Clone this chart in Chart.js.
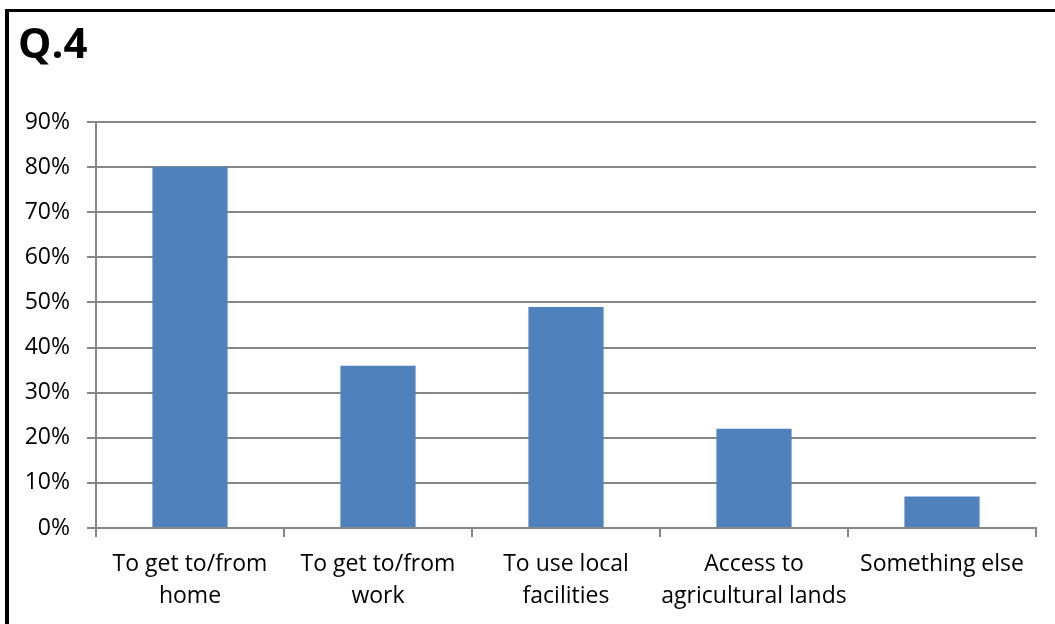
<!DOCTYPE html>
<html>
<head>
<meta charset="utf-8">
<script src="https://cdn.jsdelivr.net/npm/chart.js@4.4.1/dist/chart.umd.min.js"></script>
<style>
  html, body { margin: 0; padding: 0; background: #fff; }
  #frame {
    position: absolute; left: 5px; top: 9px; width: 1100px; height: 700px;
    border-top: 3px solid #000; border-left: 4px solid #000;
  }
  #wrap { position: absolute; left: 0; top: 0; width: 1055px; height: 624px; }
</style>
</head>
<body>
<div id="frame"></div>
<div id="wrap"><canvas id="grafico" width="1055" height="624"></canvas></div>
<script>
// Motivos de uso (Q.4), percentual de respostas
const categorias = [
  ['To get to/from', 'home'],
  ['To get to/from', 'work'],
  ['To use local', 'facilities'],
  ['Access to', 'agricultural lands'],
  'Something else'
];
const percentuais = [80, 36, 49, 22, 7];
const marcasY = [0, 10, 20, 30, 40, 50, 60, 70, 80, 90];

const fonte = "'Open Sans', 'Noto Sans', sans-serif";
const cinza = '#868686';

const ctx = document.getElementById('grafico').getContext('2d');
new Chart(ctx, {
  type: 'bar',
  data: {
    labels: categorias,
    datasets: [{
      label: 'Q.4',
      data: percentuais,
      backgroundColor: '#4F81BD',
      borderWidth: 0,
      barPercentage: 0.4,
      categoryPercentage: 1.0
    }]
  },
  options: {
    responsive: false,
    animation: false,
    layout: { padding: { left: 18, right: 19, top: 21, bottom: 1 } },
    plugins: {
      legend: { display: false },
      tooltip: { enabled: false },
      title: {
        display: true,
        text: 'Q.4',
        align: 'start',
        color: '#000',
        font: { family: fonte, size: 42, weight: 'bold' },
        padding: { top: 0, bottom: 50.6 }
      }
    },
    scales: {
      x: {
        offset: true,
        border: { display: true, color: cinza, width: 2 },
        grid: {
          offset: true,
          drawOnChartArea: false,
          drawTicks: true,
          tickLength: 9,
          color: cinza,
          lineWidth: 2
        },
        ticks: {
          color: '#000',
          padding: 11,
          maxRotation: 0,
          autoSkip: false,
          font: { family: fonte, size: 23, lineHeight: 1.39 }
        }
      },
      y: {
        min: 0,
        max: 90,
        afterFit: (escala) => { escala.width = 78; },
        afterBuildTicks: (escala) => {
          escala.ticks = marcasY.map(v => ({ value: v }));
        },
        border: { display: true, color: cinza, width: 2 },
        grid: {
          color: cinza,
          lineWidth: 2,
          drawTicks: true,
          tickLength: 9
        },
        ticks: {
          color: '#000',
          padding: 17,
          font: { family: fonte, size: 23 },
          callback: (v) => v + '%'
        }
      }
    }
  }
});
</script>
</body>
</html>
